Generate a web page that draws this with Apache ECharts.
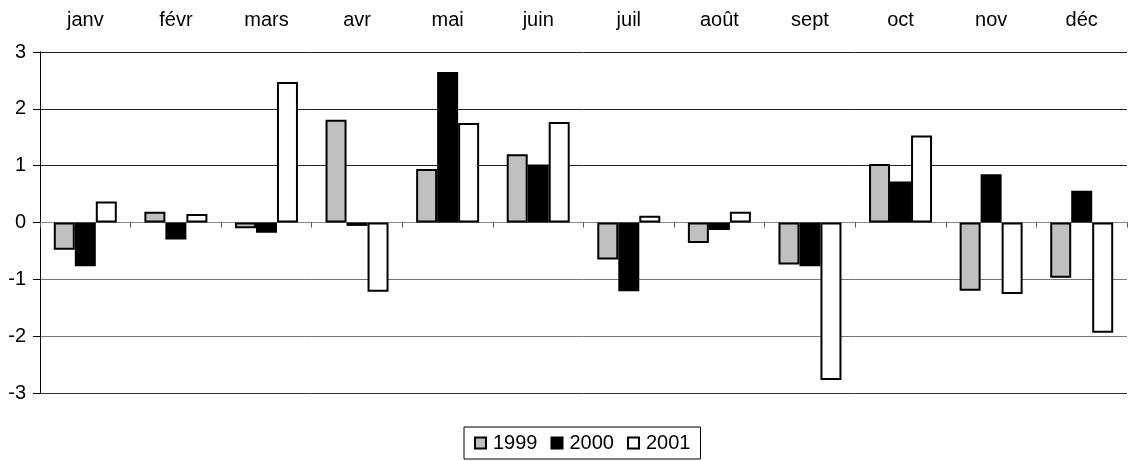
<!DOCTYPE html>
<html><head><meta charset="utf-8">
<script src="https://cdn.jsdelivr.net/npm/echarts@6/dist/echarts.min.js"></script>
<style>html,body{margin:0;padding:0;background:#fff}#c{width:1129px;height:461px}</style>
</head><body><div id="c"></div>
<script>
var categories = ['janv','févr','mars','avr','mai','juin','juil','août','sept','oct','nov','déc'];
var s1999 = [-0.48, 0.19, -0.10, 1.81, 0.94, 1.20, -0.65, -0.36, -0.74, 1.03, -1.20, -0.97];
var s2000 = [-0.77, -0.30, -0.18, -0.06, 2.65, 1.02, -1.21, -0.13, -0.77, 0.72, 0.85, 0.56];
var s2001 = [0.37, 0.15, 2.47, -1.22, 1.75, 1.77, 0.12, 0.19, -2.77, 1.53, -1.26, -1.94];
var yTicks = [-3, -2, -1, 0, 1, 2, 3];

var font = 'Liberation Sans, Arial, sans-serif';
function bar(name, data, color) {
  return {name: name, type: 'bar', data: data, xAxisIndex: 0, barWidth: 21, barGap: '0%',
    itemStyle: {color: color, borderColor: '#000', borderWidth: 2}};
}
var chart = echarts.init(document.getElementById('c'), null, {renderer: 'canvas'});
chart.setOption({
  animation: false,
  grid: {left: 40, right: 2, top: 52, bottom: 68},
  legend: {
    bottom: 2, left: 464, icon: 'rect', itemWidth: 11, itemHeight: 11, itemGap: 13,
    borderColor: '#000', borderWidth: 1, padding: [6, 10, 6, 10],
    textStyle: {fontFamily: font, fontSize: 20, color: '#000', padding: [0, 0, 0, 2]},
    itemStyle: {borderColor: '#000', borderWidth: 2},
    data: ['1999', '2000', '2001']
  },
  xAxis: [{
    type: 'category', data: categories,
    axisLine: {onZero: true, lineStyle: {color: '#888', width: 1}},
    axisTick: {show: true, inside: false, length: 5, lineStyle: {color: '#555'}},
    axisLabel: {show: false}
  }, {
    type: 'category', data: categories, position: 'top',
    axisLine: {show: false}, axisTick: {show: false},
    axisLabel: {fontFamily: font, fontSize: 20, color: '#000', margin: 22}
  }],
  yAxis: {
    type: 'value', min: yTicks[0], max: yTicks[yTicks.length - 1], interval: 1,
    axisLine: {show: true, lineStyle: {color: '#000', width: 1}},
    axisTick: {show: true, length: 7, lineStyle: {color: '#000'}},
    axisLabel: {fontFamily: font, fontSize: 20, color: '#000', margin: 14},
    splitLine: {show: true, lineStyle: {color: ['#333', '#777', '#777', '#888', '#222', '#222', '#222'], width: 1}}
  },
  series: [bar('1999', s1999, '#c0c0c0'), bar('2000', s2000, '#000'), bar('2001', s2001, '#fff')]
});
</script></body></html>
